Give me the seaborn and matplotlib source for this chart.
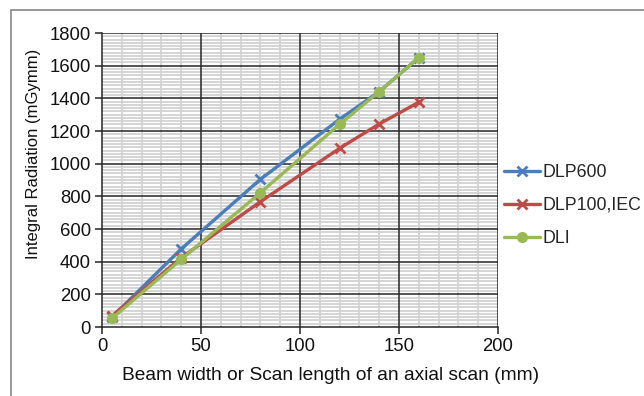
import matplotlib
matplotlib.use("Agg")
import matplotlib.pyplot as plt
import seaborn as sns
import pandas as pd
from matplotlib.patches import Rectangle
from matplotlib.ticker import MultipleLocator

x_mm = [5, 40, 80, 120, 140, 160]
dlp600 = [60, 478, 904, 1272, 1441, 1650]
dlp100_iec = [68, 424, 767, 1094, 1243, 1376]
dli = [53, 414, 822, 1241, 1441, 1650]
series_names = ["DLP600", "DLP100,IEC", "DLI"]
colors = ["#4A7EBB", "#BE4B48", "#98B954"]
markers = ["x", "x", "o"]

sns.set_style("white")
plt.rcParams["font.family"] = ["Liberation Sans", "DejaVu Sans"]

FS = 13.3
fig = plt.figure(figsize=(6.44, 3.96), dpi=100)
ax = fig.add_axes([102 / 644, 1 - 327 / 396, 396 / 644, 294 / 396])

# outer chart border
fig.patches.append(Rectangle((11 / 644, -0.1), 2, 1.1 - 10 / 396,
                             transform=fig.transFigure, fill=False,
                             edgecolor="#868686", linewidth=1.2, zorder=0))

data = [dlp600, dlp100_iec, dli]
for name, vals, c, m in zip(series_names, data, colors, markers):
    df = pd.DataFrame({"x": x_mm, "y": vals})
    sns.lineplot(data=df, x="x", y="y", ax=ax, color=c, linewidth=2.4,
                 marker=m, markersize=7 if m == "x" else 8,
                 markeredgewidth=2 if m == "x" else 0,
                 markeredgecolor=c, label=name, zorder=3)

ax.set_xlim(0, 200)
ax.set_ylim(0, 1800)
ax.xaxis.set_major_locator(MultipleLocator(50))
ax.xaxis.set_minor_locator(MultipleLocator(10))
ax.yaxis.set_major_locator(MultipleLocator(200))
ax.yaxis.set_minor_locator(MultipleLocator(20))
ax.grid(which="minor", color="#d2d2d2", linewidth=1.3)
ax.grid(which="major", visible=False)
ax.set_axisbelow(True)
# major grid drawn above the minor grid
for xv in ax.get_xticks():
    if 0 < xv <= 200:
        ax.axvline(xv, color="#262626", linewidth=1.1, zorder=1.5)
for yv in ax.get_yticks():
    if 0 < yv <= 1800:
        ax.axhline(yv, color="#262626", linewidth=1.1, zorder=1.5)
for s in ["top", "right"]:
    ax.spines[s].set_visible(False)
for s in ["left", "bottom"]:
    ax.spines[s].set_color("#262626")
    ax.spines[s].set_linewidth(1.1)
ax.tick_params(which="major", direction="out", length=5, width=1.1,
               color="#262626", labelsize=FS, labelcolor="#111111",
               left=True, bottom=True, pad=3)
ax.tick_params(which="minor", length=0)

ax.set_xlabel("Beam width or Scan length of an axial scan (mm)", fontsize=13.8,
              color="#111111")
ax.xaxis.set_label_coords(0.576, -0.135)
ax.set_ylabel("Integral Radiation (mGymm)", fontsize=12, color="#111111")
ax.yaxis.set_label_coords(-0.154, 0.588)

ax.legend(loc="center left", bbox_to_anchor=(504 / 644, 1 - 205.5 / 396),
          bbox_transform=fig.transFigure, frameon=False, fontsize=12.8,
          handlelength=2.0, handletextpad=0.15, labelspacing=0.9,
          borderaxespad=0, borderpad=0)

fig.savefig("out.png", dpi=100)
